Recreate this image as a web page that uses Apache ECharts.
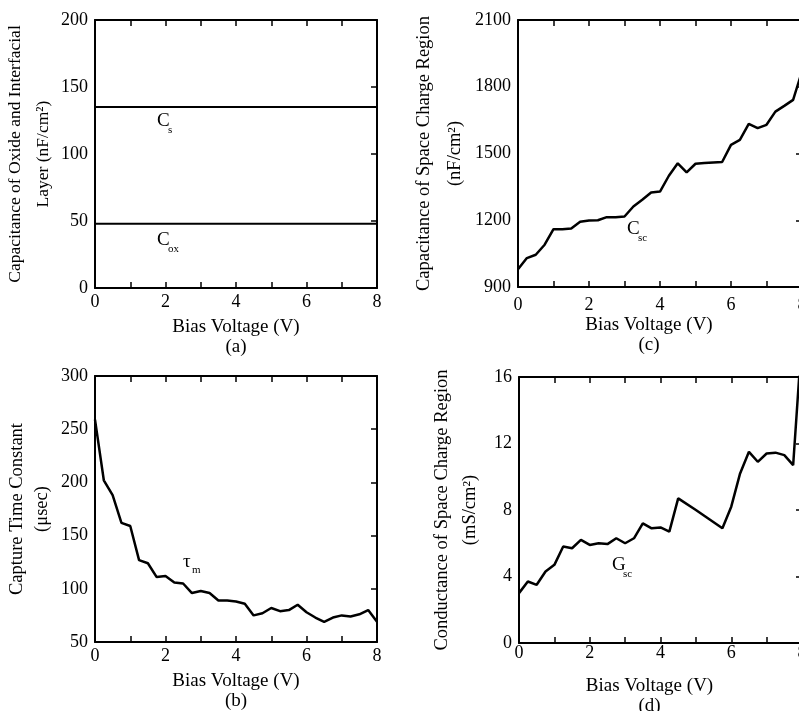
<!DOCTYPE html>
<html>
<head>
<meta charset="utf-8">
<script src="https://cdn.jsdelivr.net/npm/echarts@6/dist/echarts.min.js"></script>
<style>
html, body { margin: 0; padding: 0; background: #fff; }
#main { width: 799px; height: 711px; }
</style>
</head>
<body>
<div id="main"></div>
<script>
// bias voltage steps (V)
var biasV = [0, 0.25, 0.5, 0.75, 1, 1.25, 1.5, 1.75, 2, 2.25, 2.5, 2.75, 3, 3.25, 3.5, 3.75,
             4, 4.25, 4.5, 4.75, 5, 5.25, 5.5, 5.75, 6, 6.25, 6.5, 6.75, 7, 7.25, 7.5, 7.75, 8];

// (a) oxide / interfacial layer (nF/cm2), flat
var flatV = [0, 8];
var cs = [135, 135];
var cox = [48, 48];

// (c) space charge capacitance (nF/cm2)
var csc = [980, 1030, 1045, 1090, 1160, 1160, 1163, 1193, 1199, 1200, 1214, 1214, 1217, 1262, 1292, 1325,
           1329, 1400, 1456, 1415, 1454, 1457, 1460, 1462, 1539, 1561, 1633, 1614, 1629, 1688, 1714, 1741, 1870];

// (b) capture time constant (usec)
var tau = [259, 202, 188, 162, 159, 127, 124, 111, 112, 106, 105, 96, 98, 96, 89, 89,
           88, 86, 75, 77, 82, 79, 80, 85, 78, 73, 69, 73, 75, 74, 76, 80, 69];

// (d) space charge conductance (mS/cm2)
var gscV = [0, 0.25, 0.5, 0.75, 1, 1.25, 1.5, 1.75, 2, 2.25, 2.5, 2.75, 3, 3.25, 3.5, 3.75,
            4, 4.25, 4.5, 5, 5.75, 6, 6.25, 6.5, 6.75, 7, 7.25, 7.5, 7.75, 8];
var gsc = [3.0, 3.7, 3.5, 4.3, 4.7, 5.8, 5.7, 6.2, 5.9, 6.0, 5.95, 6.3, 6.0, 6.3, 7.2, 6.9,
           6.95, 6.7, 8.7, 8.0, 6.9, 8.2, 10.2, 11.5, 10.9, 11.4, 11.45, 11.3, 10.7, 18.5];

var font = 'Liberation Serif';

function pairs(xs, ys) {
    var out = [];
    for (var i = 0; i < xs.length; i++) out.push([xs[i], ys[i]]);
    return out;
}

// 0 = (a), 1 = (c), 2 = (b), 3 = (d)
var panels = [
    {grid: {left: 95, top: 20, width: 282, height: 268}, yMin: 0, yMax: 200, yStep: 50,
     yName: 'Capacitance of Oxide and Interfacial\nLayer (nF/cm²)', yGap: 36, yLh: 28, yFs: 17.5,
     xName: 'Bias Voltage (V)\n(a)', xGap: 29, xPad: 0, xMargin: 5},
    {grid: {left: 518, top: 20, width: 284, height: 267}, yMin: 900, yMax: 2100, yStep: 300,
     yName: 'Capacitance of Space Charge Region\n(nF/cm²)', yGap: 40, yLh: 31, yFs: 18.5,
     xName: 'Bias Voltage (V)\n(c)', xGap: 28, xPad: 22, xMargin: 9},
    {grid: {left: 95, top: 376, width: 282, height: 266}, yMin: 50, yMax: 300, yStep: 50,
     yName: 'Capture Time Constant\n(μsec)', yGap: 40, yLh: 25, yFs: 18.5,
     xName: 'Bias Voltage (V)\n(b)', xGap: 29, xPad: 0, xMargin: 5},
    {grid: {left: 519, top: 377, width: 283, height: 266}, yMin: 0, yMax: 16, yStep: 4,
     yName: 'Conductance of Space Charge Region\n(mS/cm²)', yGap: 35, yLh: 28, yFs: 18.5,
     xName: 'Bias Voltage (V)\n(d)', xGap: 33, xPad: 22, xMargin: 1}
];

var lineBlack = {color: '#000', width: 2};
var tickBlack = {color: '#000', width: 1.5};

var grids = [], xAxes = [], yAxes = [];
panels.forEach(function (p, i) {
    var g = p.grid;
    g.containLabel = false;
    g.outerBoundsMode = 'none';
    grids.push(g);
    xAxes.push({
        gridIndex: i, type: 'value', min: 0, max: 8, interval: 2, position: 'bottom',
        axisLine: {onZero: false, lineStyle: lineBlack},
        axisTick: {inside: true, length: 6, lineStyle: tickBlack},
        minorTick: {show: true, splitNumber: 2, length: 6, lineStyle: tickBlack},
        splitLine: {show: false},
        axisLabel: {color: '#000', fontFamily: font, fontSize: 18, margin: p.xMargin},
        name: p.xName, nameLocation: 'middle', nameGap: p.xGap,
        nameTextStyle: {color: '#000', fontFamily: font, fontSize: 19, lineHeight: 20,
                        padding: [0, p.xPad, 0, 0]}
    });
    xAxes.push({
        gridIndex: i, type: 'value', min: 0, max: 8, interval: 2, position: 'top',
        axisLine: {onZero: false, lineStyle: lineBlack},
        axisTick: {inside: true, length: 6, lineStyle: tickBlack},
        minorTick: {show: true, splitNumber: 2, length: 6, lineStyle: tickBlack},
        splitLine: {show: false},
        axisLabel: {show: false}
    });
    yAxes.push({
        gridIndex: i, type: 'value', min: p.yMin, max: p.yMax, interval: p.yStep, position: 'left',
        axisLine: {onZero: false, lineStyle: lineBlack},
        axisTick: {show: false},
        splitLine: {show: false},
        axisLabel: {color: '#000', fontFamily: font, fontSize: 18, margin: 7,
                    formatter: function (v) { return String(v); }},
        name: p.yName, nameLocation: 'middle', nameRotate: 90, nameGap: p.yGap,
        nameTextStyle: {color: '#000', fontFamily: font, fontSize: p.yFs, lineHeight: p.yLh}
    });
    yAxes.push({
        gridIndex: i, type: 'value', min: p.yMin, max: p.yMax, interval: p.yStep, position: 'right',
        axisLine: {onZero: false, lineStyle: lineBlack},
        axisTick: {inside: true, length: 6, lineStyle: tickBlack},
        splitLine: {show: false},
        axisLabel: {show: false}
    });
});

function curve(gi, data, w) {
    return {
        type: 'line', xAxisIndex: gi * 2, yAxisIndex: gi * 2, data: data,
        symbol: 'none', clip: true, animation: false,
        lineStyle: {color: '#000', width: w}
    };
}

function label(x, y, main, sub) {
    return [
        {type: 'text', x: x, y: y, style: {text: main, fontFamily: font, fontSize: 19, fill: '#000', verticalAlign: 'middle'}},
        {type: 'text', x: x + 11, y: y + 9, style: {text: sub, fontFamily: font, fontSize: 11, fill: '#000', verticalAlign: 'middle'}}
    ];
}

var myChart = echarts.init(document.getElementById('main'));
var option = {
    backgroundColor: '#fff',
    animation: false,
    grid: grids,
    xAxis: xAxes,
    yAxis: yAxes,
    series: [
        curve(0, pairs(flatV, cs), 2),
        curve(0, pairs(flatV, cox), 2),
        curve(1, pairs(biasV, csc), 2.5),
        curve(2, pairs(biasV, tau), 2.5),
        curve(3, pairs(gscV, gsc), 2.5)
    ],
    graphic: [].concat(
        label(157, 121, 'C', 's'),
        label(157, 240, 'C', 'ox'),
        label(627, 229, 'C', 'sc'),
        [{type: 'text', x: 183, y: 562, style: {text: 'τ', fontFamily: font, fontSize: 19, fill: '#000', verticalAlign: 'middle'}},
         {type: 'text', x: 192, y: 570, style: {text: 'm', fontFamily: font, fontSize: 11, fill: '#000', verticalAlign: 'middle'}}],
        label(612, 565, 'G', 'sc')
    )
};
myChart.setOption(option);
</script>
</body>
</html>
